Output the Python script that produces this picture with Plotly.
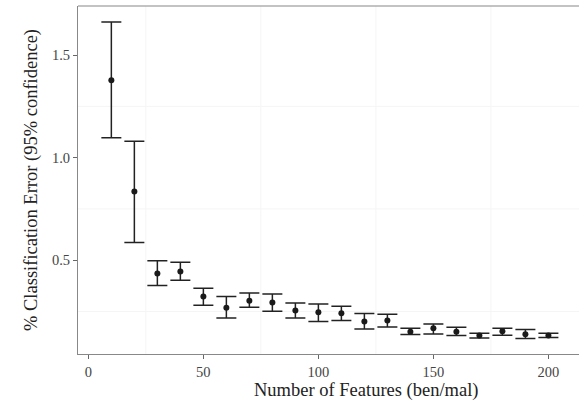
import plotly.graph_objects as go

features = [10, 20, 30, 40, 50, 60, 70, 80, 90, 100, 110, 120, 130, 140, 150, 160, 170, 180, 190, 200]
error = [1.377, 0.835, 0.435, 0.445, 0.323, 0.269, 0.303, 0.294, 0.255, 0.246, 0.241, 0.202, 0.206, 0.152, 0.168, 0.152, 0.133, 0.154, 0.139, 0.133]
upper = [1.661, 1.080, 0.497, 0.490, 0.363, 0.323, 0.340, 0.336, 0.292, 0.287, 0.276, 0.240, 0.237, 0.168, 0.189, 0.173, 0.144, 0.168, 0.162, 0.144]
lower = [1.097, 0.586, 0.377, 0.402, 0.280, 0.219, 0.271, 0.251, 0.219, 0.201, 0.206, 0.165, 0.175, 0.138, 0.140, 0.133, 0.121, 0.134, 0.118, 0.123]

x_ticks = [0, 50, 100, 150, 200]
y_ticks = [0.5, 1.0, 1.5]

plus = [u - m for u, m in zip(upper, error)]
minus = [m - l for m, l in zip(error, lower)]

fig = go.Figure()
fig.add_trace(go.Scatter(
    x=features, y=error, mode="markers",
    marker=dict(color="#1a1a1a", size=6),
    error_y=dict(type="data", symmetric=False, array=plus, arrayminus=minus,
                 color="#222222", thickness=1.5, width=10),
    showlegend=False, hoverinfo="skip"))

font_family = "Liberation Serif, Times New Roman, serif"
fig.update_layout(
    width=579, height=401,
    margin=dict(l=78, r=0, t=6, b=47),
    paper_bgcolor="white", plot_bgcolor="white",
    font=dict(family=font_family, color="#333333"),
    xaxis=dict(range=[-4.5, 213.3], tickvals=x_ticks, ticks="outside", ticklen=4,
               tickcolor="#666666", showline=True, linecolor="#888888", linewidth=1.2,
               showgrid=False, zeroline=False,
               tickfont=dict(family=font_family, size=14.5, color="#444444")),
    yaxis=dict(range=[0.043, 1.739], tickvals=y_ticks, tickformat=".1f", ticks="outside",
               ticklen=4, tickcolor="#666666", showline=True, linecolor="#888888", linewidth=1.2,
               showgrid=False, zeroline=False,
               tickfont=dict(family=font_family, size=14.5, color="#444444"),
               title=dict(text="% Classification Error (95% confidence)",
                          font=dict(family=font_family, size=18.5, color="#222222"), standoff=9)),
)

fig.add_annotation(text="Number of Features (ben/mal)", xref="paper", yref="paper",
                   x=0.575, y=-0.106, xanchor="center", yanchor="middle", showarrow=False,
                   font=dict(family=font_family, size=18.5, color="#222222"))

# faint minor grid lines
for gx in [25, 75, 125, 175]:
    fig.add_shape(type="line", xref="x", yref="paper", x0=gx, x1=gx, y0=0, y1=1,
                  line=dict(color="#f5f5f5", width=1), layer="below")
for gy in [0.25, 0.75, 1.25]:
    fig.add_shape(type="line", xref="paper", yref="y", x0=0, x1=1, y0=gy, y1=gy,
                  line=dict(color="#f5f5f5", width=1), layer="below")
# top border
fig.add_shape(type="line", xref="paper", yref="paper", x0=0, x1=1, y0=1, y1=1,
              line=dict(color="#888888", width=1.2))

fig.write_html("out.html", config={"displayModeBar": False},
               post_script="document.body.style.margin='0';document.body.style.overflow='hidden';")
